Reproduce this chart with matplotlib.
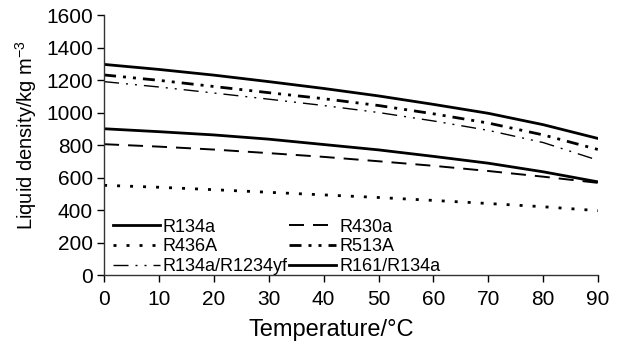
import matplotlib
matplotlib.use("Agg")
import matplotlib.pyplot as plt

plt.rcParams['font.family'] = ['Liberation Sans', 'DejaVu Sans']
plt.rcParams['mathtext.fontset'] = 'custom'
plt.rcParams['mathtext.rm'] = 'Liberation Sans'
plt.rcParams['mathtext.it'] = 'Liberation Sans:italic'

temperature = [0, 10, 20, 30, 40, 50, 60, 70, 80, 90]
r134a = [1296, 1265, 1230, 1190, 1148, 1102, 1050, 995, 925, 840]
r430a = [805, 790, 772, 750, 727, 700, 672, 640, 605, 567]
r436a = [552, 540, 525, 509, 493, 477, 459, 440, 420, 396]
r513a = [1231, 1198, 1160, 1122, 1085, 1043, 992, 935, 862, 772]
r134a_r1234yf = [1190, 1157, 1120, 1082, 1043, 1000, 948, 890, 815, 706]
r161_r134a = [900, 882, 862, 836, 803, 770, 730, 688, 635, 573]

y_ticks = [0, 200, 400, 600, 800, 1000, 1200, 1400, 1600]
x_ticks = [0, 10, 20, 30, 40, 50, 60, 70, 80, 90]

PX = 72.0 / 100.0  # points per pixel

def dashes(px_list, lw):
    return [p * PX / lw for p in px_list]

fig = plt.figure(figsize=(6.27, 3.49), dpi=100)
ax = fig.add_axes([0.166, 0.212, 0.788, 0.745])

h1, = ax.plot(temperature, r134a, color='black', lw=2.0, label='R134a')
h2, = ax.plot(temperature, r430a, color='black', lw=1.4, label='R430a',
              dashes=dashes([15, 9], 1.4))
h3, = ax.plot(temperature, r436a, color='black', lw=2.0, label='R436A',
              dashes=dashes([3, 10], 2.0))
h4, = ax.plot(temperature, r513a, color='black', lw=2.0, label='R513A',
              dashes=dashes([12, 7, 3, 7, 3, 7], 2.0))
h5, = ax.plot(temperature, r134a_r1234yf, color='black', lw=1.0, label='R134a/R1234yf',
              dashes=dashes([15, 7, 2, 7, 2, 7], 1.0))
h6, = ax.plot(temperature, r161_r134a, color='black', lw=2.0, label='R161/R134a')

ax.set_xlim(0, 90)
ax.set_ylim(0, 1600)
ax.set_xticks(x_ticks)
ax.set_yticks(y_ticks)
ax.tick_params(direction='out', length=5, width=1, labelsize=15, colors='black')
ax.tick_params(axis='x', pad=6)
ax.tick_params(axis='y', pad=3)
for s in ['top', 'right']:
    ax.spines[s].set_visible(False)
for s in ['left', 'bottom']:
    ax.spines[s].set_linewidth(1.0)
    ax.spines[s].set_color('#333333')

ax.set_xlabel('Temperature/°C', fontsize=17)
ax.xaxis.set_label_coords(0.46, -0.21, transform=ax.transAxes)
ax.xaxis.label.set_va('center')
ax.set_ylabel(r'Liquid density/kg m$^{-3}$', fontsize=14.5)
ax.yaxis.set_label_coords(-0.158, 0.54, transform=ax.transAxes)
ax.yaxis.label.set_va('center')

leg = ax.legend([h1, h3, h5, h2, h4, h6],
                ['R134a', 'R436A', 'R134a/R1234yf', 'R430a', 'R513A', 'R161/R134a'],
                ncol=2, loc='lower left', bbox_to_anchor=(0.018, 0.0),
                frameon=False, fontsize=13, handlelength=2.6, handletextpad=0.15,
                columnspacing=0.1, labelspacing=0.15, borderpad=0, borderaxespad=0)

fig.savefig('out.png', dpi=100)
